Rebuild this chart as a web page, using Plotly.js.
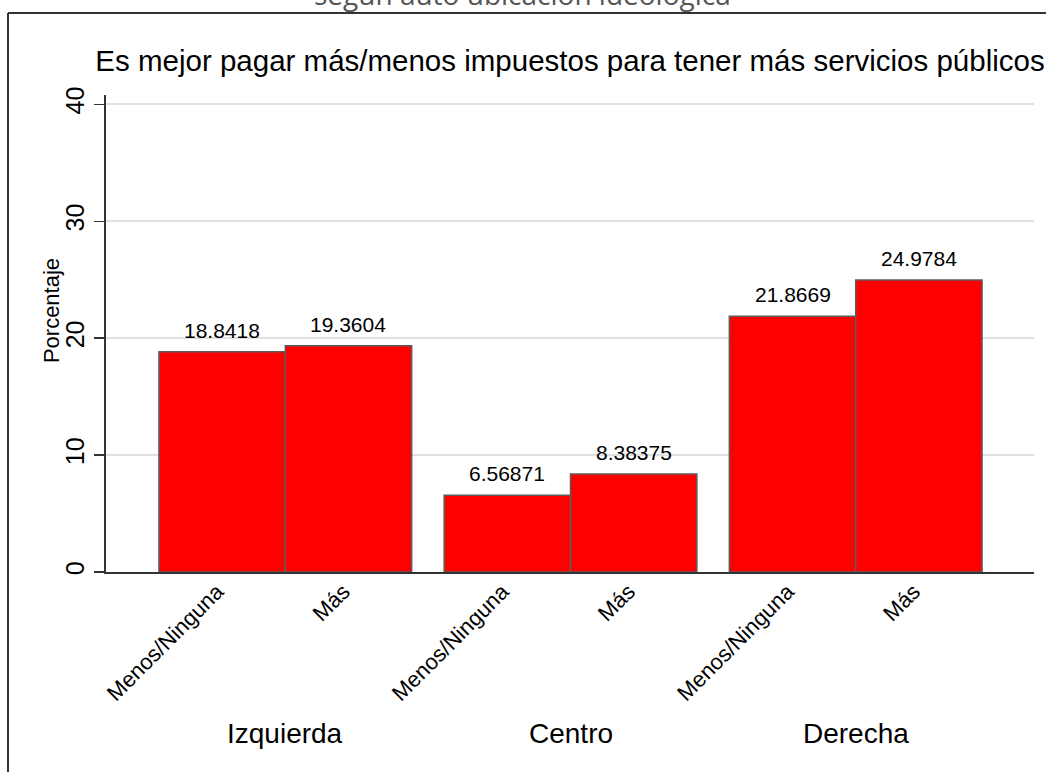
<!DOCTYPE html>
<html>
<head>
<meta charset="utf-8">
<script src="https://cdn.plot.ly/plotly-3.0.1.min.js"></script>
<style>html,body{margin:0;padding:0;background:#fff;}#chart{width:1046px;height:772px;}</style>
</head>
<body>
<div id="chart"></div>
<script>
// Data
const groups = ['Izquierda', 'Centro', 'Derecha'];
const answers = ['Menos/Ninguna', 'Más'];
const menosNinguna = [18.8418, 6.56871, 21.8669];
const mas = [19.3604, 8.38375, 24.9784];
const yTicks = [0, 10, 20, 30, 40];
const titleText = 'Es mejor pagar más/menos impuestos para tener más servicios públicos';
const subtitleText = 'según auto ubicación ideológica';
const yTitle = 'Porcentaje';

// Layout helpers
const GROUP_STEP = 2.257;
const series = [menosNinguna, mas];
const xs = [], ys = [], labels = [];
groups.forEach((g, gi) => {
  answers.forEach((a, ai) => {
    xs.push(gi * GROUP_STEP + (ai - 0.5));
    ys.push(series[ai][gi]);
    labels.push(a);
  });
});

const font = 'Liberation Sans, Arial, sans-serif';
const annotations = [];
xs.forEach((x, i) => {
  annotations.push({
    x: x, y: ys[i], xref: 'x', yref: 'y', text: String(ys[i]),
    showarrow: false, yanchor: 'bottom', yshift: 8,
    font: {family: font, size: 21, color: '#000'}
  });
});
groups.forEach((g, gi) => {
  annotations.push({
    x: gi * GROUP_STEP, y: -0.3396, xref: 'x', yref: 'paper', text: g,
    showarrow: false, yanchor: 'middle',
    font: {family: font, size: 28, color: '#000'}
  });
});
annotations.push({
  x: -0.0593, y: 0.549, xref: 'paper', yref: 'paper', text: yTitle,
  textangle: -90, showarrow: false, xanchor: 'center', yanchor: 'middle',
  font: {family: font, size: 22, color: '#000'}
});
annotations.push({
  x: 0.449, y: 1.168, xref: 'paper', yref: 'paper', text: subtitleText,
  showarrow: false, xanchor: 'center', yanchor: 'bottom',
  font: {family: 'Open Sans, sans-serif', size: 28, color: '#555'}
});

const trace = {
  type: 'bar', x: xs, y: ys, width: 1,
  marker: {color: '#ff0000', line: {color: '#5c5c5c', width: 1.5}},
  hoverinfo: 'skip'
};

const layout = {
  width: 1046, height: 772,
  margin: {l: 106, r: 12, t: 95, b: 200, pad: 0},
  paper_bgcolor: '#fff', plot_bgcolor: '#fff',
  showlegend: false,
  title: {
    text: titleText, xref: 'paper', x: 0.5, xanchor: 'center',
    yref: 'container', y: 0.922, yanchor: 'middle',
    font: {family: font, size: 29.5, color: '#000'}
  },
  xaxis: {
    range: [-1.419, 5.925], showgrid: false, zeroline: false,
    showline: true, linecolor: '#333', linewidth: 2,
    tickmode: 'array', tickvals: xs, ticktext: labels, tickangle: -45,
    ticks: '', ticklabelstandoff: -4, ticklabelshift: -5,
    tickfont: {family: font, size: 22, color: '#000'}
  },
  yaxis: {
    range: [0, 40.8], tickmode: 'array', tickvals: yTicks,
    showgrid: true, gridcolor: '#e0e0e0', gridwidth: 2, zeroline: false,
    showline: true, linecolor: '#333', linewidth: 2,
    ticks: 'outside', ticklen: 10, tickwidth: 1.5, tickcolor: '#333',
    tickangle: -90, tickfont: {family: font, size: 25, color: '#000'}
  },
  annotations: annotations,
  shapes: [
    {type: 'line', xref: 'paper', yref: 'paper', x0: -0.1056, x1: -0.1056, y0: 1.1719, y1: -0.45,
     line: {color: '#333', width: 2}},
    {type: 'line', xref: 'paper', yref: 'paper', x0: -0.1056, x1: 1.05, y0: 1.1719, y1: 1.1719,
     line: {color: '#333', width: 2}}
  ]
};

Plotly.newPlot('chart', [trace], layout, {staticPlot: true, displayModeBar: false});
</script>
</body>
</html>
